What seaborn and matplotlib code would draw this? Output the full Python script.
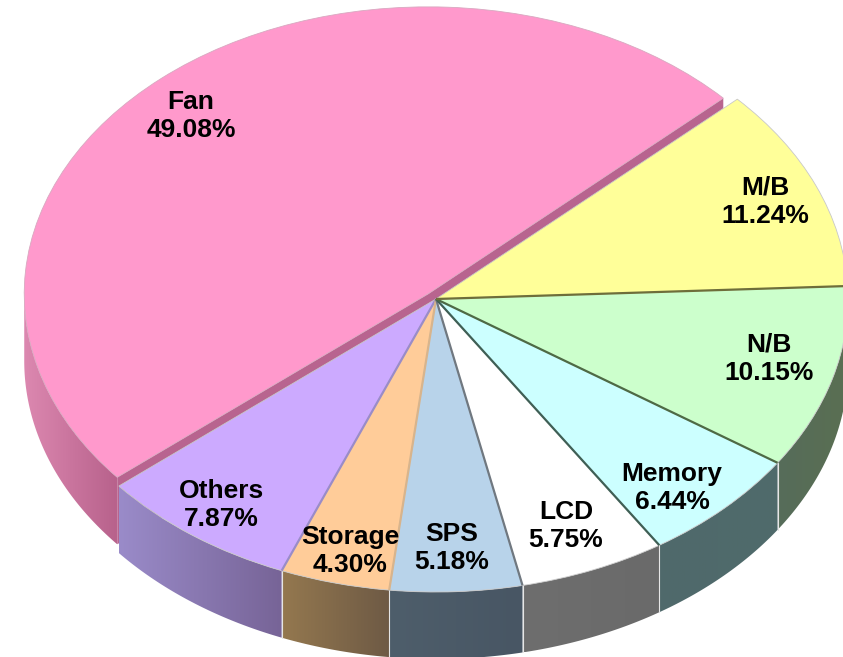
import matplotlib
matplotlib.use('Agg')
import matplotlib.pyplot as plt
from matplotlib.patches import Polygon
import numpy as np
import seaborn as sns

names = ['Fan', 'Others', 'Storage', 'SPS', 'LCD', 'Memory', 'N/B', 'M/B']
values = [49.08, 7.87, 4.30, 5.18, 5.75, 6.44, 10.15, 11.24]

top_colors = ['#FF99CC', '#CCAAFF', '#FFCC99', '#B8D3EA', '#FFFFFF', '#CCFFFF', '#CCFFCC', '#FFFF99']
wall_left = ['#DC88B0', '#9A8BC9', '#94784F', '#4E5E6B', '#6E6E6E', '#4F696B', '#566C5A', '#8C8C50']
wall_right = ['#B8628C', '#776497', '#6E5A45', '#485664', '#6A6A6A', '#506B6B', '#5A6F52', '#8C8C50']
line_colors = ['#B8648F', '#9A8CC8', '#D8B48C', '#707880', '#5E5E5E', '#3F5F55', '#4E6A45', '#6E6E3A']

# label centres in picture pixels
label_px = [(191, 116), (221, 505), (350, 551), (452, 548), (566, 526), (672, 488), (769, 359), (765, 202)]

# ellipse of the main disc and of the pulled out slice, in pixels
W, H = 843, 657
CX, CY, A, B = 436, 299, 412, 293
FAN_CX, FAN_CY, FAN_SCALE = 428, 294, 0.98
DEPTH = 67 / B

sns.set_theme(style='white')
plt.rcParams['font.family'] = ['Liberation Sans', 'DejaVu Sans']

fig = plt.figure(figsize=(W / 100, H / 100), dpi=100)
ax = fig.add_axes([0, 0, 1, 1])

wedges, _ = ax.pie(values, colors=top_colors, startangle=43, counterclock=True, normalize=True,
                   wedgeprops={'linewidth': 0.6, 'edgecolor': '#C8C8C8'})
ax.set_aspect('auto')


def arc(w, t1, t2, n=60):
    t = np.radians(np.linspace(t1, t2, n))
    cx, cy = w.center
    return np.column_stack([cx + w.r * np.cos(t), cy + w.r * np.sin(t)])


def draw_wall(w, i, z):
    t1, t2 = max(w.theta1, 180), min(w.theta2, 360)
    if t2 <= t1:
        return
    upper = arc(w, t1, t2)
    lower = upper[::-1] - [0, DEPTH]
    pts = np.vstack([upper, lower])
    cmap = sns.blend_palette([wall_left[i], wall_right[i]], n_colors=64, as_cmap=True)
    im = ax.imshow(np.linspace(0, 1, 128)[None, :], cmap=cmap, aspect='auto',
                   extent=[pts[:, 0].min(), pts[:, 0].max(), pts[:, 1].min(), pts[:, 1].max()],
                   zorder=z)
    clip = Polygon(pts, closed=True, transform=ax.transData)
    im.set_clip_path(clip)
    # small light gap where two walls meet
    if i > 0 and w.theta2 < 360:
        ax.plot([upper[-1, 0]] * 2, [upper[-1, 1], upper[-1, 1] - DEPTH], color='#E6E6E6', lw=0.8, zorder=z + 0.5)


# the pulled out slice first, with its cut faces, the others sit over it
fan = wedges[0]
fan.set_center(((FAN_CX - CX) / A, (CY - FAN_CY) / B))
fan.set_radius(FAN_SCALE)
fan.set_edgecolor('#D8A8C0')
tips = arc(fan, fan.theta1, fan.theta2, 2)
apex = np.array(fan.center)
cut = np.array([tips[0], apex, tips[1], tips[1] - [0, DEPTH], apex - [0, DEPTH], tips[0] - [0, DEPTH]])
ax.add_patch(Polygon(cut, closed=True, facecolor=line_colors[0], edgecolor='none', zorder=1))
draw_wall(fan, 0, 1.5)
fan.set_zorder(2)

for i, w in enumerate(wedges[1:], start=1):
    draw_wall(w, i, 3)
    w.set_zorder(4)
    # thin seam at the start of each slice
    a1 = arc(w, w.theta1, w.theta1, 1)[0]
    if i > 1:
        ax.plot([w.center[0], a1[0]], [w.center[1], a1[1]], color=line_colors[i if i > 4 else i - 1],
                lw=1.6, solid_capstyle='butt', zorder=5)

ax.set_xlim(-CX / A, (W - CX) / A)
ax.set_ylim((CY - H) / B, CY / B)

for name, val, (px, py) in zip(names, values, label_px):
    ax.text((px - CX) / A, (CY - py) / B, f'{name}\n{val:.2f}%', ha='center', va='center',
            fontsize=19, fontweight='bold', color='black', linespacing=1.24, zorder=6)

fig.savefig('out.png', dpi=100, facecolor='white')
